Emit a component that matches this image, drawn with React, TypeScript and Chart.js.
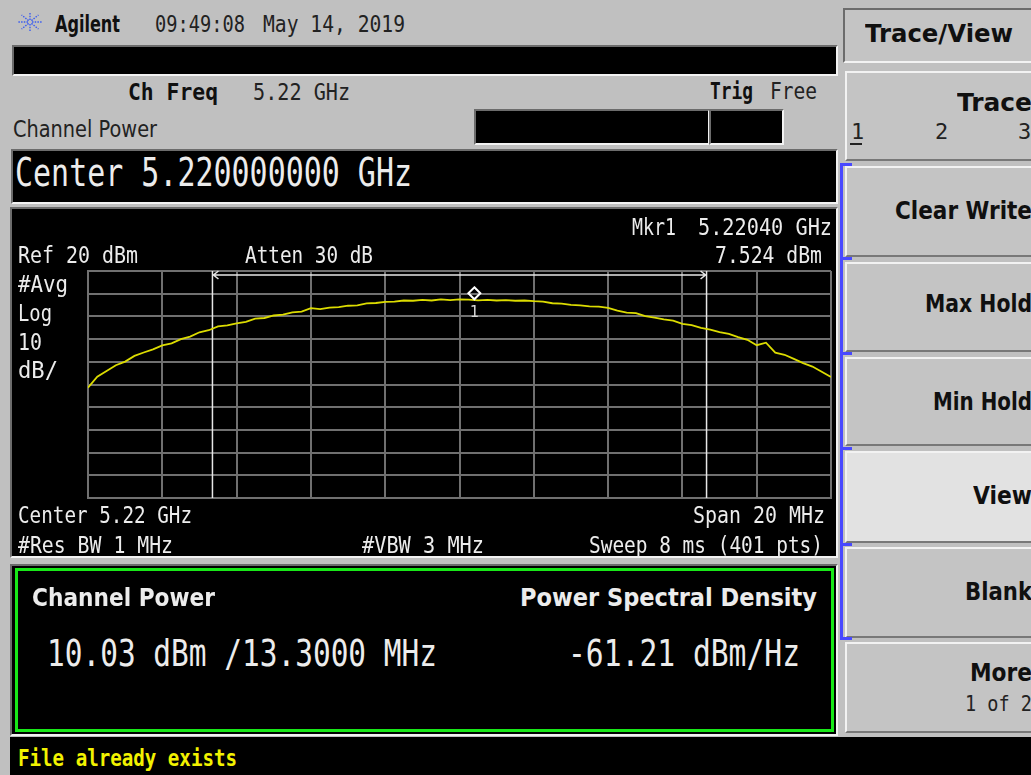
import React, { useEffect, useRef } from "react";
import { Chart, registerables } from "chart.js";

Chart.register(...registerables);

// ---------------- DATA ----------------
const FREQ_MHZ = [
  5210, 5210.25, 5210.5, 5210.75, 5211, 5211.25, 5211.5, 5211.75, 5212, 5212.25,
  5212.5, 5212.75, 5213, 5213.25, 5213.5, 5213.75, 5214, 5214.25, 5214.5, 5214.75,
  5215, 5215.25, 5215.5, 5215.75, 5216, 5216.25, 5216.5, 5216.75, 5217, 5217.25,
  5217.5, 5217.75, 5218, 5218.25, 5218.5, 5218.75, 5219, 5219.25, 5219.5, 5219.75,
  5220, 5220.25, 5220.5, 5220.75, 5221, 5221.25, 5221.5, 5221.75, 5222, 5222.25,
  5222.5, 5222.75, 5223, 5223.25, 5223.5, 5223.75, 5224, 5224.25, 5224.5, 5224.75,
  5225, 5225.25, 5225.5, 5225.75, 5226, 5226.25, 5226.5, 5226.75, 5227, 5227.25,
  5227.5, 5227.75, 5228, 5228.25, 5228.5, 5228.75, 5229, 5229.25, 5229.5, 5229.75,
  5230,
];
const TRACE_DBM = [
  -31.4, -26.6, -24.1, -21.5, -19.9, -17.4, -15.9, -14.5, -12.8, -11.9,
  -10.0, -8.9, -7.0, -6.1, -4.4, -4.0, -3.1, -2.4, -1.0, -0.7,
  0.4, 0.8, 1.8, 2.1, 3.6, 3.2, 3.9, 4.1, 4.7, 4.9,
  5.7, 5.9, 6.4, 6.5, 7.0, 6.9, 7.3, 7.0, 7.5, 7.2,
  7.5, 7.4, 7.1, 7.3, 7.0, 7.2, 6.9, 7.0, 6.7, 6.5,
  5.8, 5.6, 5.1, 4.9, 4.4, 4.3, 3.8, 2.5, 1.7, 1.4,
  0.1, -0.5, -1.3, -1.9, -3.3, -3.8, -5.1, -5.8, -6.9, -7.7,
  -9.1, -10.3, -12.7, -11.6, -16.0, -16.9, -18.7, -20.6, -22.1, -24.4,
  -26.7,
];
const X_RANGE_MHZ = [5210, 5230];
const Y_RANGE_DBM = [-80, 20];
const X_STEP_MHZ = 2;
const Y_STEP_DB = 10;
const CHANNEL_EDGES_MHZ = [5213.35, 5226.65];
const MARKER = { freq: 5220.4, dbm: 7.524, label: "1" };

// ---------------- TEXT HELPERS ----------------
const MONO = '"DejaVu Sans Mono", monospace';
const SANS = '"DejaVu Sans", sans-serif';
let mctx: CanvasRenderingContext2D | null = null;
function measure(text: string, font: string) {
  if (!mctx) mctx = document.createElement("canvas").getContext("2d");
  mctx!.font = font;
  return mctx!.measureText(text).width;
}

function T(props: {
  x: number; b: number; cap?: number; w?: number; text: string;
  font?: string; bold?: boolean; color?: string;
}) {
  const { x, b, cap = 17, w, text, font = MONO, bold = false, color = "#ececec" } = props;
  const size = cap / 0.729;
  const weight = bold ? "bold" : "normal";
  const nat = measure(text, `${weight} ${size}px ${font}`);
  const sx = w ? w / nat : 1;
  return (
    <div
      style={{
        position: "absolute",
        left: x,
        top: b - 0.846 * size,
        fontFamily: font,
        fontSize: size,
        fontWeight: weight as any,
        lineHeight: size + "px",
        color,
        whiteSpace: "pre",
        transform: `scaleX(${sx})`,
        transformOrigin: "0 0",
      }}
    >
      {text}
    </div>
  );
}

function Box(props: { x: number; y: number; w: number; h: number; bg?: string; kind?: "sunken" | "raised" }) {
  const { x, y, w, h, bg = "#000", kind = "sunken" } = props;
  const dark = "2px solid #6c6c6c";
  const light = "2px solid #f2f2f2";
  return (
    <div
      style={{
        position: "absolute",
        left: x,
        top: y,
        width: w,
        height: h,
        boxSizing: "border-box",
        background: bg,
        borderTop: kind === "sunken" ? dark : light,
        borderLeft: kind === "sunken" ? dark : light,
        borderBottom: kind === "sunken" ? light : "2px solid #787878",
        borderRight: kind === "sunken" ? light : "2px solid #787878",
      }}
    />
  );
}

function Rect(props: { x: number; y: number; w: number; h: number; bg: string }) {
  return <div style={{ position: "absolute", left: props.x, top: props.y, width: props.w, height: props.h, background: props.bg }} />;
}

// ---------------- CHART ----------------
const GRID = "#707070";

const overlayPlugin = {
  id: "saOverlay",
  beforeDatasetsDraw(chart: any) {
    const { ctx, chartArea, scales } = chart;
    const xs = scales.x;
    const l = xs.getPixelForValue(CHANNEL_EDGES_MHZ[0]);
    const r = xs.getPixelForValue(CHANNEL_EDGES_MHZ[1]);
    ctx.save();
    ctx.strokeStyle = "#e6e6e6";
    ctx.lineWidth = 1.5;
    ctx.beginPath();
    ctx.moveTo(l, chartArea.top);
    ctx.lineTo(l, chartArea.bottom);
    ctx.moveTo(r, chartArea.top);
    ctx.lineTo(r, chartArea.bottom);
    const by = chartArea.top + 4;
    ctx.moveTo(l, by);
    ctx.lineTo(r, by);
    ctx.moveTo(l + 6, by - 4);
    ctx.lineTo(l + 1, by);
    ctx.lineTo(l + 6, by + 4);
    ctx.moveTo(r - 6, by - 4);
    ctx.lineTo(r - 1, by);
    ctx.lineTo(r - 6, by + 4);
    ctx.stroke();
    ctx.restore();
  },
  afterDatasetsDraw(chart: any) {
    const { ctx, scales } = chart;
    const px = scales.x.getPixelForValue(MARKER.freq);
    const py = scales.y.getPixelForValue(MARKER.dbm);
    ctx.save();
    ctx.strokeStyle = "#ffffff";
    ctx.lineWidth = 2;
    const cy = py - 6;
    const s = 6;
    ctx.beginPath();
    ctx.moveTo(px, cy - s);
    ctx.lineTo(px + s, cy);
    ctx.lineTo(px, cy + s);
    ctx.lineTo(px - s, cy);
    ctx.closePath();
    ctx.stroke();
    ctx.fillStyle = "#d8d8d8";
    ctx.font = '15px "DejaVu Sans Mono", monospace';
    ctx.textAlign = "center";
    ctx.textBaseline = "middle";
    ctx.fillText(MARKER.label, px, py + 14);
    ctx.restore();
  },
};

function SpectrumChart() {
  const ref = useRef<HTMLCanvasElement | null>(null);
  useEffect(() => {
    if (!ref.current) return;
    const chart = new Chart(ref.current, {
      type: "line",
      data: {
        datasets: [
          {
            data: FREQ_MHZ.map((f, i) => ({ x: f, y: TRACE_DBM[i] })),
            borderColor: "#dcdc00",
            borderWidth: 1.8,
            pointRadius: 0,
            tension: 0,
          },
        ],
      },
      options: {
        animation: false,
        responsive: false,
        events: [],
        layout: { padding: { left: 76, right: 5, top: 61, bottom: 57 } },
        plugins: { legend: { display: false }, tooltip: { enabled: false } },
        scales: {
          x: {
            type: "linear",
            min: X_RANGE_MHZ[0],
            max: X_RANGE_MHZ[1],
            ticks: { display: false, stepSize: X_STEP_MHZ },
            grid: { color: GRID, lineWidth: 2, drawTicks: false },
            border: { display: true, color: GRID, width: 2 },
          },
          y: {
            type: "linear",
            min: Y_RANGE_DBM[0],
            max: Y_RANGE_DBM[1],
            ticks: { display: false, stepSize: Y_STEP_DB },
            grid: { color: GRID, lineWidth: 2, drawTicks: false },
            border: { display: true, color: GRID, width: 2 },
          },
        },
      },
      plugins: [overlayPlugin],
    } as any);
    return () => chart.destroy();
  }, []);
  return (
    <canvas
      ref={ref}
      width={824}
      height={345}
      style={{ position: "absolute", left: 12, top: 210, width: 824, height: 345 }}
    />
  );
}

// ---------------- APP ----------------
const DARK = "#101010";
const WHITE = "#ececec";

function Logo() {
  const cx = 14, cy = 12;
  const rays = [0, 45, 90, 135, 180, 225, 270, 315];
  return (
    <svg width={28} height={24} style={{ position: "absolute", left: 16, top: 10 }}>
      {rays.map((a) => {
        const rad = (a * Math.PI) / 180;
        return (
          <line
            key={a}
            x1={cx + Math.cos(rad) * 2}
            y1={cy + Math.sin(rad) * 2}
            x2={cx + Math.cos(rad) * 12}
            y2={cy + Math.sin(rad) * 10}
            stroke="#3a5cf0"
            strokeWidth={1.4}
            strokeDasharray="1.5 1.2"
          />
        );
      })}
    </svg>
  );
}

export default function App() {
  const keys = [
    { y: 166, h: 91, label: "Clear Write", x: 895, b: 220 },
    { y: 262, h: 90, label: "Max Hold", x: 925, b: 313 },
    { y: 357, h: 89, label: "Min Hold", x: 933, b: 411 },
    { y: 451, h: 92, label: "View", x: 973, b: 505, bg: "#e2e2e2" },
    { y: 547, h: 91, label: "Blank", x: 965, b: 601 },
  ];
  const R = 1032;
  return (
    <div
      style={{
        position: "fixed",
        left: 0,
        top: 0,
        width: 1031,
        height: 775,
        overflow: "hidden",
        background: "#c0c0c0",
      }}
    >
      {/* header */}
      <Logo />
      <T x={55} b={32} cap={17} w={65} text="Agilent" font={SANS} bold color={DARK} />
      <T x={155} b={32} cap={17} w={90} text="09:49:08" color="#222" />
      <T x={263} b={32} cap={17} w={142} text="May 14, 2019" color="#222" />
      <Box x={12} y={45} w={826} h={31} />
      <T x={128} b={100} cap={17} w={90} text="Ch Freq" bold color={DARK} />
      <T x={253} b={100} cap={17} w={97} text="5.22 GHz" color="#222" />
      <T x={710} b={99} cap={17} w={43} text="Trig" bold color={DARK} />
      <T x={770} b={99} cap={17} w={47} text="Free" color="#222" />
      <T x={13} b={137} cap={17} w={144} text="Channel Power" font={SANS} color="#222" />
      <Box x={474} y={109} w={236} h={36} />
      <Box x={709} y={109} w={75} h={36} />
      <Box x={11} y={149} w={827} h={55} />
      <T x={15} b={186} cap={28} w={397} text="Center 5.220000000 GHz" color={WHITE} />

      {/* graph */}
      <Box x={10} y={207} w={828} h={351} />
      <SpectrumChart />
      <T x={632} b={235} w={44} text="Mkr1" color={WHITE} />
      <T x={698} b={235} w={134} text="5.22040 GHz" color={WHITE} />
      <T x={715} b={263} w={107} text="7.524 dBm" color={WHITE} />
      <T x={18} b={263} w={120} text="Ref 20 dBm" color={WHITE} />
      <T x={245} b={263} w={128} text="Atten 30 dB" color={WHITE} />
      <T x={18} b={292} w={50} text="#Avg" color={WHITE} />
      <T x={18} b={321} w={34} text="Log" color={WHITE} />
      <T x={18} b={350} w={24} text="10" color={WHITE} />
      <T x={18} b={378} w={40} text="dB/" color={WHITE} />
      <T x={18} b={523} w={174} text="Center 5.22 GHz" color={WHITE} />
      <T x={693} b={523} w={132} text="Span 20 MHz" color={WHITE} />
      <T x={18} b={553} w={155} text="#Res BW 1 MHz" color={WHITE} />
      <T x={362} b={553} w={122} text="#VBW 3 MHz" color={WHITE} />
      <T x={589} b={553} w={234} text="Sweep 8 ms (401 pts)" color={WHITE} />

      {/* results */}
      <Box x={10} y={564} w={828} h={172} />
      <div
        style={{
          position: "absolute",
          left: 15,
          top: 568,
          width: 819,
          height: 164,
          boxSizing: "border-box",
          border: "3px solid #18e818",
        }}
      />
      <T x={32} b={607} cap={18} w={183} text="Channel Power" font={SANS} bold color={WHITE} />
      <T x={520} b={607} cap={18} w={297} text="Power Spectral Density" font={SANS} bold color={WHITE} />
      <T x={47} b={666} cap={27} w={390} text="10.03 dBm /13.3000 MHz" color={WHITE} />
      <T x={568} b={666} cap={27} w={232} text="-61.21 dBm/Hz" color={WHITE} />

      {/* status bar */}
      <Rect x={10} y={737} w={1021} h={38} bg="#000" />
      <T x={18} b={766} cap={17} w={219} text="File already exists" bold color="#f2f200" />

      {/* softkeys */}
      <Box x={843} y={8} w={190} h={55} bg="#c4c4c4" />
      <T x={865} b={43} cap={18} w={148} text="Trace/View" font={SANS} bold color={DARK} />
      <Box x={845} y={71} w={190} h={90} bg="#c4c4c4" kind="raised" />
      <T x={957} b={112} cap={18} w={R - 957} text="Trace" font={SANS} bold color={DARK} />
      <T x={851} b={140} cap={16} text="1" color="#222" />
      <Rect x={850} y={143} w={12} h={2} bg="#222" />
      <T x={935} b={140} cap={16} text="2" color="#222" />
      <T x={1018} b={140} cap={16} text="3" color="#222" />
      {keys.map((k) => (
        <React.Fragment key={k.label}>
          <Box x={845} y={k.y} w={190} h={k.h} bg={k.bg || "#c4c4c4"} kind="raised" />
          <T x={k.x} b={k.b} cap={18} w={R - k.x} text={k.label} font={SANS} bold color={DARK} />
        </React.Fragment>
      ))}
      <Box x={845} y={642} w={190} h={91} bg="#c4c4c4" kind="raised" />
      <T x={970} b={682} cap={18} w={R - 970} text="More" font={SANS} bold color={DARK} />
      <T x={965} b={712} cap={16} w={R - 965} text="1 of 2" color="#222" />

      {/* blue bracket */}
      <Rect x={840} y={163} w={3} h={477} bg="#4848ff" />
      {[163, 257, 352, 447, 543, 637].map((y) => (
        <Rect key={y} x={840} y={y} w={12} h={3} bg="#4848ff" />
      ))}
    </div>
  );
}
